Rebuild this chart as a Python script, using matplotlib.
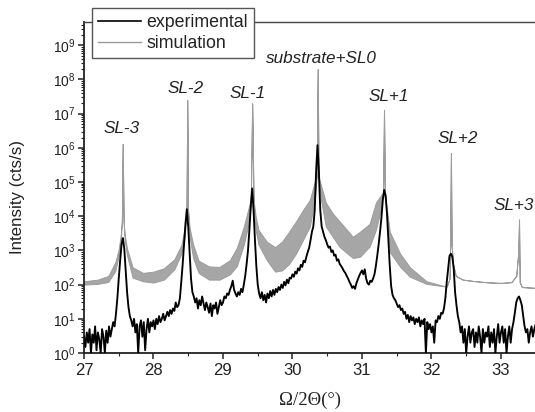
import numpy as np
import matplotlib
matplotlib.use("Agg")
import matplotlib.pyplot as plt
from matplotlib.lines import Line2D
from matplotlib.ticker import LogLocator, MultipleLocator, NullFormatter, LogFormatterSciNotation

plt.rcParams['font.family'] = ['Liberation Sans', 'DejaVu Sans']
plt.rcParams['mathtext.fontset'] = 'custom'
plt.rcParams['mathtext.rm'] = 'Liberation Sans'
plt.rcParams['mathtext.it'] = 'Liberation Sans:italic'

# ---------------- data ----------------
# experimental scan: 2-theta grid (0.02 deg steps) and counts
exp_x = np.round(np.arange(27.00, 33.5001, 0.02), 2)
exp_y = [
    3, 1.5, 4, 2, 5, 1, 3.5, 2, 6, 1.2,                  # 27.00
    4, 2.5, 1, 5, 3, 1, 4.5, 2, 6, 3,                    # 27.20
    5, 8, 6, 14, 40, 150, 500, 1500, 2300, 1100,         # 27.40
    250, 60, 22, 12, 9, 6, 10, 4, 7, 1,                  # 27.60
    6, 9, 3, 8, 1.2, 5, 10, 4, 8, 6,                     # 27.80
    9, 5, 10, 7, 12, 8, 10, 14, 9, 12,                   # 28.00
    16, 12, 18, 14, 20, 17, 30, 22, 25, 40,              # 28.20
    120, 400, 1500, 6000, 16000, 5000, 900, 150, 60, 45, # 28.40
    30, 40, 20, 35, 25, 45, 28, 18, 30, 22,              # 28.60
    15, 28, 12, 25, 20, 30, 14, 22, 35, 25,              # 28.80
    30, 45, 40, 55, 50, 70, 90, 130, 70, 55,             # 29.00
    45, 60, 50, 75, 60, 100, 180, 400, 1000, 4000,       # 29.20
    20000, 65000, 15000, 2000, 350, 100, 55, 40, 60, 35, # 29.40
    50, 30, 55, 40, 65, 45, 70, 50, 75, 60,              # 29.60
    85, 70, 100, 80, 120, 95, 140, 110, 160, 150,        # 29.80
    200, 170, 240, 210, 300, 260, 380, 330, 500, 450,    # 30.00
    650, 900, 1200, 2000, 3500, 5000, 15000, 200000, 1200000, 200000,  # 30.20
    15000, 5000, 3500, 2500, 2000, 1500, 1200, 1300, 900, 1000,        # 30.40
    700, 750, 500, 550, 400, 350, 300, 250, 220, 180,    # 30.60
    150, 120, 100, 80, 90, 75, 110, 140, 180, 220,       # 30.80
    260, 200, 280, 150, 110, 100, 130, 120, 150, 200,    # 31.00
    350, 700, 1500, 3500, 9000, 30000, 59000, 40000, 12000, 2000,      # 31.20
    350, 90, 50, 40, 35, 28, 22, 25, 18, 20,             # 31.40
    14, 16, 10, 13, 8, 12, 9, 11, 7, 10,                 # 31.60
    8, 11, 6, 9, 7, 10, 1, 8, 5, 7,                      # 31.80
    4, 6, 2, 9, 8, 12, 10, 15, 14, 20,                   # 32.00
    40, 120, 300, 700, 800, 650, 300, 60, 25, 12,        # 32.20
    8, 4, 6, 2, 5, 1, 3, 6, 2, 4,                        # 32.40
    5, 1.5, 4, 2, 6, 3, 1, 5, 2, 4,                      # 32.60
    3, 6, 1.5, 4, 2, 5, 1, 3, 7, 2,                      # 32.80
    4, 6, 2, 5, 1, 3, 6, 2, 5, 8,                        # 33.00
    15, 30, 40, 45, 35, 25, 12, 6, 4, 5,                 # 33.20
    2, 4, 6, 3, 5, 7,                                    # 33.40
]

# simulation: lower / upper envelope of the fringe band (equal at the sharp peaks)
sim_x = [27.00, 27.20, 27.35, 27.45, 27.50, 27.53, 27.545, 27.557, 27.57, 27.585,
         27.62, 27.70, 27.85, 28.00, 28.15, 28.30, 28.40, 28.45, 28.475, 28.486,
         28.497, 28.52, 28.57, 28.65, 28.80, 28.95, 29.10, 29.20, 29.30, 29.36,
         29.40, 29.42, 29.44, 29.47, 29.51, 29.63, 29.75, 29.85, 29.95, 30.05,
         30.15, 30.25, 30.32, 30.35, 30.363, 30.375, 30.41, 30.48, 30.58, 30.68,
         30.87, 30.97, 31.11, 31.20, 31.27, 31.305, 31.317, 31.33, 31.36, 31.40,
         31.55, 31.69, 31.93, 32.17, 32.22, 32.26, 32.27, 32.28, 32.29, 32.31,
         32.35, 32.45, 32.60, 32.80, 33.00, 33.15, 33.22, 33.25, 33.26, 33.27,
         33.30, 33.50]
sim_lo = [100, 105, 120, 250, 700, 2000, 7000, 1.3e6, 7000, 2000,
          700, 160, 125, 115, 140, 280, 800, 2500, 1.5e4, 2.5e7,
          1.5e4, 2500, 600, 220, 140, 140, 200, 350, 1500, 5000,
          2.0e4, 2.0e7, 2.0e4, 4000, 1500, 520, 240, 260, 400, 800,
          2000, 5000, 3.0e4, 1.5e5, 2.0e8, 1.5e5, 3.0e4, 5000, 2500, 1250,
          600, 650, 1300, 4000, 1.5e4, 5.0e4, 1.3e7, 5.0e4, 8000, 900,
          330, 170, 105, 90, 88, 150, 1500, 7.0e5, 1500, 400,
          180, 140, 128, 117, 112, 118, 180, 900, 8000, 120,
          85, 80]
sim_hi = [125, 140, 180, 450, 1100, 3000, 7000, 1.3e6, 7000, 3000,
          1100, 320, 220, 240, 300, 550, 1400, 4500, 1.5e4, 2.5e7,
          1.5e4, 4500, 1500, 500, 340, 330, 520, 1200, 5000, 1.5e4,
          3.0e4, 2.0e7, 3.0e4, 1.0e4, 4000, 1800, 1250, 1800, 3500, 7000,
          1.5e4, 3.0e4, 1.0e5, 1.5e5, 2.0e8, 1.5e5, 8.0e4, 2.5e4, 1.2e4, 7000,
          2500, 3500, 6000, 2.5e4, 4.0e4, 5.0e4, 1.3e7, 5.0e4, 1.5e4, 3500,
          800, 320, 125, 92, 90, 150, 1500, 7.0e5, 1500, 400,
          180, 140, 128, 117, 112, 118, 180, 900, 8000, 120,
          85, 80]

series_labels = ['experimental', 'simulation']
peak_labels = ['SL-3', 'SL-2', 'SL-1', 'substrate+SL0', 'SL+1', 'SL+2', 'SL+3']

# ---------------- layout constants (not data) ----------------
label_pos = [(27.54, 3.8e6), (28.46, 5.6e7), (29.35, 4.0e7), (30.41, 4.0e8),
             (31.39, 3.2e7), (32.38, 1.9e6), (33.18, 2.0e4)]

W, H = 535, 412
fig = plt.figure(figsize=(W / 100, H / 100), dpi=100)
ax = fig.add_axes([84 / W, 59 / H, (W - 84) / W, (353 - 22) / H])

sim_fill = '#a6a6a6'
sim_line = '#9c9c9c'
ax.fill_between(sim_x, sim_lo, sim_hi, facecolor=sim_fill, linewidth=0.7,
                edgecolor=sim_line, zorder=2)
ax.plot(exp_x, exp_y, color='black', linewidth=1.35, zorder=3)

ax.set_yscale('log')
ax.set_xlim(27, 33.49)
ax.set_ylim(1, 10 ** 9.68)

ax.xaxis.set_major_locator(MultipleLocator(1))
ax.xaxis.set_minor_locator(MultipleLocator(0.5))
ax.yaxis.set_major_locator(LogLocator(base=10, numticks=20))
ax.yaxis.set_minor_locator(LogLocator(base=10, subs=np.arange(2, 10), numticks=100))
ax.yaxis.set_minor_formatter(NullFormatter())
ax.yaxis.set_major_formatter(LogFormatterSciNotation())

ax.spines['right'].set_visible(False)
for s in ('left', 'bottom'):
    ax.spines[s].set_linewidth(1.3)
    ax.spines[s].set_color('#222222')
ax.spines['top'].set_linewidth(1.0)
ax.spines['top'].set_color('#444444')

ax.tick_params(axis='both', which='major', direction='out', length=4, width=1.1,
               color='#222222', labelcolor='#222222', top=False, right=False)
ax.tick_params(axis='both', which='minor', direction='out', length=2.5, width=0.8,
               color='#222222', top=False, right=False)
ax.tick_params(axis='x', which='major', labelsize=12, pad=3)
ax.tick_params(axis='y', which='major', labelsize=10, pad=2)

ax.set_ylabel('Intensity (cts/s)', fontsize=12.2, color='#222222')
ax.yaxis.label.set_verticalalignment('center')
ax.yaxis.set_label_coords((18 - 84) / 451, (353 - 197) / 331)
ax.set_xlabel('Ω/2Θ(°)', fontsize=13.5, color='#222222',
              family=['Liberation Serif', 'DejaVu Serif'])
ax.xaxis.label.set_verticalalignment('center')
ax.xaxis.set_label_coords(0.5, (353 - 400) / 331)

for txt, (px, py) in zip(peak_labels, label_pos):
    ax.text(px, py, txt, style='italic', fontsize=12.3, color='#222222',
            ha='center', va='center', zorder=4)

handles = [Line2D([], [], color='black', linewidth=1.2),
           Line2D([], [], color=sim_line, linewidth=1.0)]
leg = ax.legend(handles, series_labels, loc='upper left',
                bbox_to_anchor=(92 / W, 1 - 8 / H), bbox_transform=fig.transFigure,
                borderaxespad=0, fontsize=12.8, frameon=True, fancybox=False,
                framealpha=1, edgecolor='#555555', handlelength=2.4,
                handletextpad=0.3, borderpad=0.35, labelspacing=0.2)
leg.get_frame().set_linewidth(1.0)
leg.set_zorder(10)
for t in leg.get_texts():
    t.set_color('#222222')

fig.savefig('out.png', dpi=100)
